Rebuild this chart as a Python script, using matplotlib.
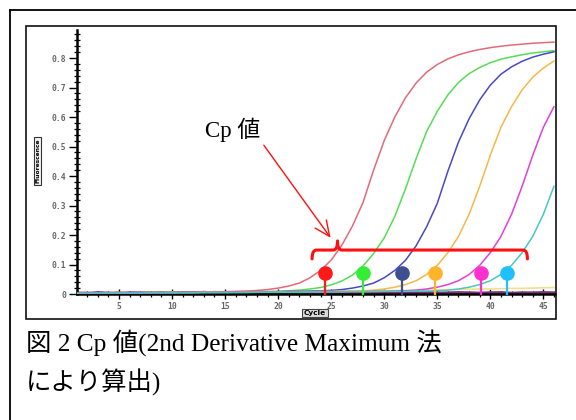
import matplotlib
matplotlib.use("Agg")
import matplotlib.pyplot as plt
from matplotlib.patches import Rectangle, PathPatch
from matplotlib.path import Path
from matplotlib.lines import Line2D
from matplotlib.ticker import MultipleLocator, FuncFormatter

# ---------------- data ----------------
cycles = list(range(1, 47))

red = [0.004,0.005,0.004,0.005,0.005,0.005,0.006,0.005,0.006,0.006,
       0.006,0.007,0.007,0.008,0.008,0.009,0.010,0.012,0.015,0.020,
       0.027,0.037,0.055,0.080,0.115,0.165,0.230,0.310,0.420,0.520,
       0.600,0.665,0.715,0.752,0.778,0.797,0.811,0.821,0.829,0.835,
       0.840,0.844,0.847,0.850,0.852,0.854]
green = [0.003,0.004,0.004,0.004,0.005,0.004,0.005,0.005,0.005,0.006,
         0.006,0.006,0.006,0.007,0.007,0.007,0.008,0.008,0.008,0.009,
         0.011,0.013,0.017,0.022,0.031,0.044,0.064,0.095,0.137,0.190,
         0.263,0.356,0.458,0.551,0.619,0.675,0.717,0.747,0.768,0.784,
         0.796,0.804,0.811,0.817,0.821,0.825]
blue = [0.003,0.003,0.004,0.004,0.004,0.005,0.005,0.005,0.005,0.005,
        0.006,0.006,0.006,0.006,0.007,0.007,0.007,0.008,0.008,0.008,
        0.009,0.009,0.010,0.011,0.012,0.015,0.020,0.027,0.037,0.055,
        0.080,0.114,0.163,0.228,0.307,0.416,0.515,0.594,0.658,0.708,
        0.745,0.770,0.789,0.803,0.813,0.821]
orange = [0.003,0.003,0.003,0.004,0.004,0.004,0.004,0.005,0.005,0.005,
          0.005,0.005,0.006,0.006,0.006,0.006,0.007,0.007,0.007,0.007,
          0.008,0.008,0.008,0.009,0.009,0.010,0.010,0.011,0.013,0.017,
          0.023,0.032,0.045,0.066,0.097,0.140,0.195,0.270,0.365,0.470,
          0.565,0.635,0.692,0.735,0.766,0.790]
magenta = [0.002,0.003,0.003,0.003,0.003,0.004,0.004,0.004,0.004,0.004,
           0.005,0.005,0.005,0.005,0.005,0.006,0.006,0.006,0.006,0.006,
           0.007,0.007,0.007,0.007,0.008,0.008,0.008,0.008,0.009,0.009,
           0.010,0.011,0.013,0.017,0.023,0.032,0.045,0.066,0.097,0.140,
           0.195,0.270,0.365,0.470,0.565,0.635]
cyan = [0.002,0.002,0.003,0.003,0.003,0.003,0.003,0.004,0.004,0.004,
        0.004,0.004,0.005,0.005,0.005,0.005,0.005,0.006,0.006,0.006,
        0.006,0.006,0.007,0.007,0.007,0.007,0.008,0.008,0.008,0.009,
        0.009,0.009,0.010,0.010,0.011,0.013,0.017,0.023,0.032,0.045,
        0.066,0.097,0.140,0.195,0.270,0.365]

# flat (non-amplifying) wells near the baseline
yellow_flat = [0.002,0.002,0.003,0.003,0.003,0.003,0.004,0.004,0.004,0.004,
               0.005,0.005,0.005,0.005,0.006,0.006,0.006,0.006,0.007,0.007,
               0.007,0.008,0.008,0.008,0.009,0.009,0.010,0.010,0.011,0.011,
               0.012,0.012,0.013,0.013,0.014,0.015,0.015,0.016,0.017,0.017,
               0.018,0.019,0.019,0.020,0.021,0.022]
purple_flat = [0.006,0.004,0.007,0.005,0.003,0.006,0.005,0.004,0.007,0.005,
               0.004,0.006,0.008,0.006,0.005,0.007,0.006,0.005,0.007,0.006,
               0.005,0.007,0.006,0.008,0.006,0.005,0.007,0.006,0.005,0.006,
               0.007,0.005,0.006,0.007,0.005,0.006,0.007,0.006,0.005,0.006,
               0.007,0.005,0.006,0.006,0.007,0.006]
brown_flat = [0.003,0.005,0.002,0.004,0.006,0.003,0.004,0.006,0.003,0.005,
              0.007,0.004,0.005,0.003,0.006,0.004,0.005,0.006,0.004,0.005,
              0.003,0.005,0.004,0.006,0.004,0.005,0.003,0.005,0.004,0.006,
              0.004,0.005,0.003,0.004,0.005,0.004,0.003,0.005,0.004,0.005,
              0.004,0.003,0.005,0.004,0.005,0.004]
olive_flat = [0.001,0.002,0.003,0.002,0.001,0.003,0.002,0.002,0.001,0.003,
              0.002,0.003,0.002,0.001,0.002,0.003,0.002,0.002,0.003,0.002,
              0.001,0.002,0.003,0.002,0.002,0.003,0.002,0.001,0.002,0.003,
              0.002,0.002,0.003,0.002,0.001,0.002,0.003,0.002,0.002,0.003,
              0.002,0.001,0.002,0.003,0.002,0.002]

curve_series = [red, green, blue, orange, magenta, cyan]
curve_colors = ['#e36a78', '#55dd55', '#4848c8', '#f5b84a', '#e040d8', '#48c8c0']
flat_series = [olive_flat, brown_flat, purple_flat, yellow_flat]
flat_colors = ['#4f7f3f', '#a0522d', '#7a2a8a', '#ece28a']

cp_values = [24.4, 28.0, 31.7, 34.8, 39.1, 41.6]
cp_level = 0.07
cp_colors = ['#ff1a1a', '#33ee33', '#3e4f8f', '#ffb42a', '#ff30d0', '#1ec0ff']

# ---------------- figure ----------------
W, H = 576, 420
fig = plt.figure(figsize=(W / 100, H / 100), dpi=100)
fig.patch.set_facecolor('white')

def fx(px):
    return px / W

def fy(py):
    return 1 - py / H

# outer cell border (left + top)
fig.add_artist(Line2D([fx(10), fx(10)], [fy(10), 0], transform=fig.transFigure,
                      color='black', lw=1.3))
fig.add_artist(Line2D([fx(10), 1], [fy(10), fy(10)], transform=fig.transFigure,
                      color='black', lw=1.3))
# inner image frame
fig.add_artist(Rectangle((fx(26), fy(319)), fx(556) - fx(26), fy(26) - fy(319),
                         transform=fig.transFigure, fill=False, ec='#111111', lw=1.2))

ax = fig.add_axes([fx(77), fy(294), fx(555) - fx(77), fy(30) - fy(294)])
ax.set_xlim(1.04, 46.1)
ax.set_ylim(0, 0.895)

for s, c in zip(flat_series, flat_colors):
    ax.plot(cycles, s, color=c, lw=1.2, zorder=2)
for s, c in zip(curve_series, curve_colors):
    ax.plot(cycles, s, color=c, lw=1.1, zorder=3)

# Cp markers
for cp, c in zip(cp_values, cp_colors):
    ax.plot([cp, cp], [0, cp_level], color=c, lw=1.6, zorder=5, clip_on=False)
    ax.plot([cp], [cp_level], 'o', color=c, ms=9.5, mec=c, zorder=6)

# brace
bl, br, tip = 23.2, 43.5, 25.6
by, bdown, btop = 0.149, 0.119, 0.18
verts = [(bl, bdown), (bl, by), (bl + 0.4, by),
         (tip - 0.4, by),
         (tip, by), (tip, btop),
         (tip, by), (tip + 0.4, by),
         (br - 0.4, by),
         (br, by), (br, bdown)]
codes = [Path.MOVETO, Path.CURVE3, Path.CURVE3,
         Path.LINETO,
         Path.CURVE3, Path.CURVE3,
         Path.CURVE3, Path.CURVE3,
         Path.LINETO,
         Path.CURVE3, Path.CURVE3]
ax.add_patch(PathPatch(Path(verts, codes), fill=False, ec='#ff1010', lw=2.2,
                       zorder=7, capstyle='round', joinstyle='round'))

# arrow + label
ax.annotate('', xy=(25.1, 0.183), xytext=(18.5, 0.512),
            arrowprops=dict(arrowstyle='->,head_length=1.1,head_width=0.5',
                            color='#ff1010', lw=1.0), zorder=8)
ax.text(15.75, 0.556, 'Cp 値', fontsize=16.5, ha='center', va='center',
        family=['Liberation Serif', 'Noto Sans CJK JP'], color='black')

# axes styling
for side in ['top', 'right']:
    ax.spines[side].set_visible(False)
ax.spines['left'].set_linewidth(1.8)
ax.spines['bottom'].set_linewidth(1.8)

ax.xaxis.set_major_locator(MultipleLocator(5))
ax.xaxis.set_minor_locator(MultipleLocator(1))
ax.yaxis.set_major_locator(MultipleLocator(0.1))
ax.yaxis.set_minor_locator(MultipleLocator(0.02))
ax.yaxis.set_major_formatter(FuncFormatter(lambda v, p: '0' if abs(v) < 1e-9 else f'{v:.1f}'))
ax.xaxis.set_major_formatter(FuncFormatter(lambda v, p: f'{int(round(v))}'))

ax.tick_params(axis='y', which='major', direction='out', length=6, width=1.0,
               pad=1.5, labelsize=5.8, labelcolor='#666666')
ax.tick_params(axis='y', which='minor', direction='inout', length=4, width=0.9)
ax.tick_params(axis='x', which='major', direction='inout', length=7, width=1.0,
               pad=2.5, labelsize=5.8, labelcolor='#666666')
ax.tick_params(axis='x', which='minor', direction='inout', length=4, width=0.9)
for lab in ax.get_xticklabels() + ax.get_yticklabels():
    lab.set_fontfamily('DejaVu Sans Mono')
    lab.set_fontweight('bold')

# axis label boxes
fig.text(fx(37.5), fy(161), 'Fluorescence', rotation=90, ha='center', va='center',
         fontsize=4.3, fontweight='bold', family='DejaVu Sans',
         bbox=dict(boxstyle='square,pad=0.25', fc='#f4f4f4', ec='#333333', lw=0.8))
fig.text(fx(315), fy(313), 'Cycle', ha='center', va='center',
         fontsize=5.3, fontweight='bold', family='DejaVu Sans',
         bbox=dict(boxstyle='square,pad=0.2', fc='#dddddd', ec='#444444', lw=0.8))

# caption
cap_font = ['Liberation Serif', 'Noto Sans CJK JP']
fig.text(fx(26), fy(343), '図 2 Cp 値(2nd Derivative Maximum 法', ha='left', va='center',
         fontsize=18.3, family=cap_font, color='black')
fig.text(fx(26), fy(382), 'により算出)', ha='left', va='center',
         fontsize=18.3, family=cap_font, color='black')

fig.savefig('out.png', dpi=100, facecolor='white')
